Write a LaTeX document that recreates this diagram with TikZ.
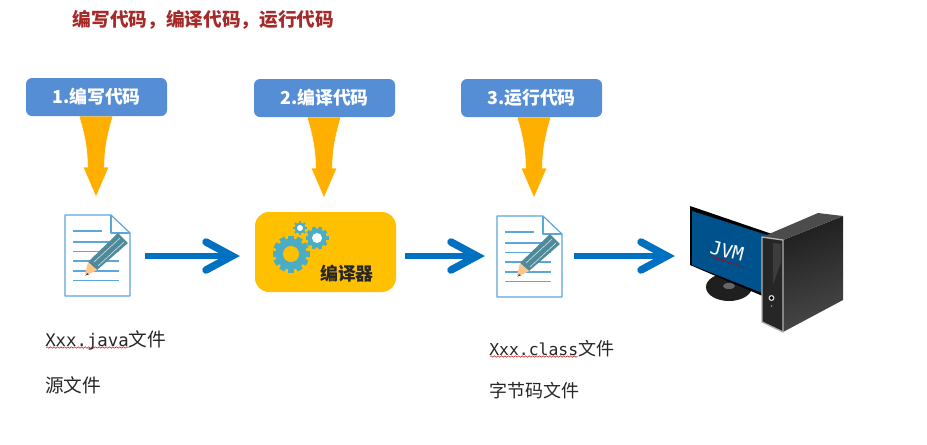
\documentclass[tikz,border=0pt]{standalone}
\usepackage{fontspec}
\setmainfont{Noto Sans CJK SC}
\newfontfamily\monof{DejaVu Sans Mono}
\usetikzlibrary{decorations.pathmorphing,calc}
\definecolor{stepblue}{HTML}{558ED5}
\definecolor{funnel}{HTML}{FFAF00}
\definecolor{flow}{HTML}{0070C0}
\definecolor{titlered}{HTML}{A52A2A}
\definecolor{docline}{HTML}{5BA7DC}
\definecolor{gearc}{HTML}{4BACC6}
\definecolor{penc}{HTML}{4F8A9A}
\definecolor{compc}{HTML}{FFC000}
\definecolor{screenc}{HTML}{00528C}
\tikzset{
 stepbox/.style={fill=stepblue,rounded corners=4.5pt,minimum width=105.75pt,minimum height=28.5pt,inner sep=0pt,text=white,font=\fontsize{13.4}{15}\selectfont\bfseries},
 funnelshape/.style={fill=funnel,draw=white,line width=.4pt},
 flowline/.style={draw=flow,line width=5.2pt},
 flowhead/.style={draw=flow,line width=5.6pt,line cap=round,miter limit=10},
 bodytext/.style={anchor=west,inner sep=0pt,text=black!85},
 squig/.style={draw=red!75!black,line width=.35pt,decorate,decoration={snake,amplitude=.55pt,segment length=2.6pt}},
}
\newcommand{\funnelat}[2]{% top centre x, top y
 \path[funnelshape] (#1-17,#2) .. controls (#1-11,#2+20) and (#1-8.5,#2+34) .. (#1-8.5,#2+51)
  -- (#1-13,#2+51) -- (#1,#2+81) -- (#1+13,#2+51) -- (#1+8.5,#2+51)
  .. controls (#1+8.5,#2+34) and (#1+11,#2+20) .. (#1+17,#2) -- cycle;}
\newcommand{\docicon}[2]{% left x, top y
 \begin{scope}[shift={(#1,#2)}]
 \draw[docline,line width=.9pt,fill=white,line join=round] (0,0) -- (46,0) -- (65,18) -- (65,81) -- (0,81) -- cycle;
 \draw[docline,line width=.9pt,line join=round] (46,0) -- (46,18) -- (65,18);
 \draw[docline,line width=.8pt] (8,16) -- (37,16) (8,27) -- (54,27) (8,36.5) -- (54,36.5) (8,46) -- (54,46) (8,56) -- (54,56) (8,65.5) -- (54,65.5);
 \fill[penc] (53,18) -- (63,28) -- (32,55) -- (23,47) -- cycle;
 \draw[white!75!penc,line width=.45pt] (55,23) -- (29,47) (59,27) -- (33,51);
 \fill[orange!45!white] (23,47) -- (32,55) -- (24,59) -- (20,59) -- cycle;
 \fill[black!70] (20,60.5) -- (22.5,58) -- (24,59.5) -- cycle;
 \end{scope}}
\newcommand{\gearat}[7]{% x,y,r outer,r ring,hole,hole colour,teeth step
 \foreach \a in {0,#7,...,359}{\draw[gearc,line width=#4*.28pt] (#1,#2) -- ($(#1,#2)+(\a:#3)$);}
 \fill[gearc] (#1,#2) circle[radius=#4];
 \fill[#6] (#1,#2) circle[radius=#5];}
\begin{document}
\begin{tikzpicture}[x=.75pt,y=-.75pt]
\path[use as bounding box,fill=white] (0,0) rectangle (927,444);

\node[inner sep=0pt,text=titlered,font=\fontsize{14}{16}\selectfont\bfseries] (title) at (203.5,20) {编写代码，编译代码，运行代码};

% funnels
\funnelat{96}{116}
\funnelat{324}{117}
\funnelat{534}{117}

\node[stepbox] (s1) at (96.5,97) {1.编写代码};
\node[stepbox] (s2) at (324.5,98) {2.编译代码};
\node[stepbox] (s3) at (531.5,98) {3.运行代码};

% documents
\docicon{65}{215}
\docicon{497}{216}

% compiler
\node[fill=compc,rounded corners=10.5pt,minimum width=105.75pt,minimum height=60pt,inner sep=0pt] (comp) at (325.5,252) {};
\gearat{291}{254}{18.5}{15.5}{8}{compc}{30}
\gearat{317}{238}{11.5}{9.5}{5}{white}{36}
\gearat{300}{228}{7}{5.5}{3}{white}{45}
\node[inner sep=0pt,text=black!85,font=\fontsize{13.4}{15}\selectfont\bfseries] (ctext) at (347,274) {编译器};

% flow arrows
\coordinate (a1s) at (145,256); \coordinate (a1e) at (232,256);
\coordinate (a2s) at (405,256); \coordinate (a2e) at (477,256);
\coordinate (a3s) at (574,256); \coordinate (a3e) at (667,256);
\foreach \s/\e in {a1s/a1e,a2s/a2e,a3s/a3e}{
 \draw[flowline] (\s) -- (\e);
 \draw[flowhead] ($(\e)+(-26,-14)$) -- (\e) -- ($(\e)+(-26,14)$);
}

% computer
\fill[black!88] (729,287) ellipse[x radius=23,y radius=14];
\fill[black!60] (729,286) ellipse[x radius=6,y radius=3];
\fill[black] (690,206) -- (772,234) -- (772,300) -- (690,265) -- cycle;
\fill[screenc] (692,211) -- (770,236) -- (770,296) -- (692,265) -- cycle;
\node[inner sep=0pt,text=white,rotate=-14,font=\fontsize{14}{16}\monof\selectfont] (jvm) at (727,251) {JVM};
\draw[squig] (710,256) -- (744,267);
\shade[left color=black!88,right color=black!72,shading angle=20] (783,240) -- (843,216) -- (843,300) -- (783,332) -- cycle;
\fill[black!70] (762,237) -- (818,213) -- (843,216) -- (783,240) -- cycle;
\fill[black!85] (762,237) -- (783,240) -- (783,332) -- (762,322) -- cycle;
\fill[black!70,opacity=.6] (773,243) -- (781,244) -- (781,262) -- (773,285) -- cycle;
\draw[black!30,line width=1pt,line join=round] (762,237) -- (783,240) -- (783,332) -- (762,322) -- cycle;
\fill[black!15] (771.5,298) circle[radius=3];
\fill[black] (771.5,298) circle[radius=1.8];
\fill[black!50] (771.5,306) circle[radius=1];

% labels
\node[bodytext,font=\fontsize{14}{16}\selectfont] (t1) at (45,340) {{\fontsize{13}{15}\monof\selectfont Xxx.java}文件};
\draw[squig] (46,347.5) -- (129,347.5);
\node[bodytext,font=\fontsize{14}{16}\selectfont] (t2) at (45,385) {源文件};
\node[bodytext,font=\fontsize{13.5}{16}\selectfont] (t3) at (489,349) {{\fontsize{12.3}{15}\monof\selectfont Xxx.class}文件};
\draw[squig] (490,356.5) -- (578,356.5);
\node[bodytext,font=\fontsize{13.5}{16}\selectfont] (t4) at (489,391) {字节码文件};
\end{tikzpicture}
\end{document}
